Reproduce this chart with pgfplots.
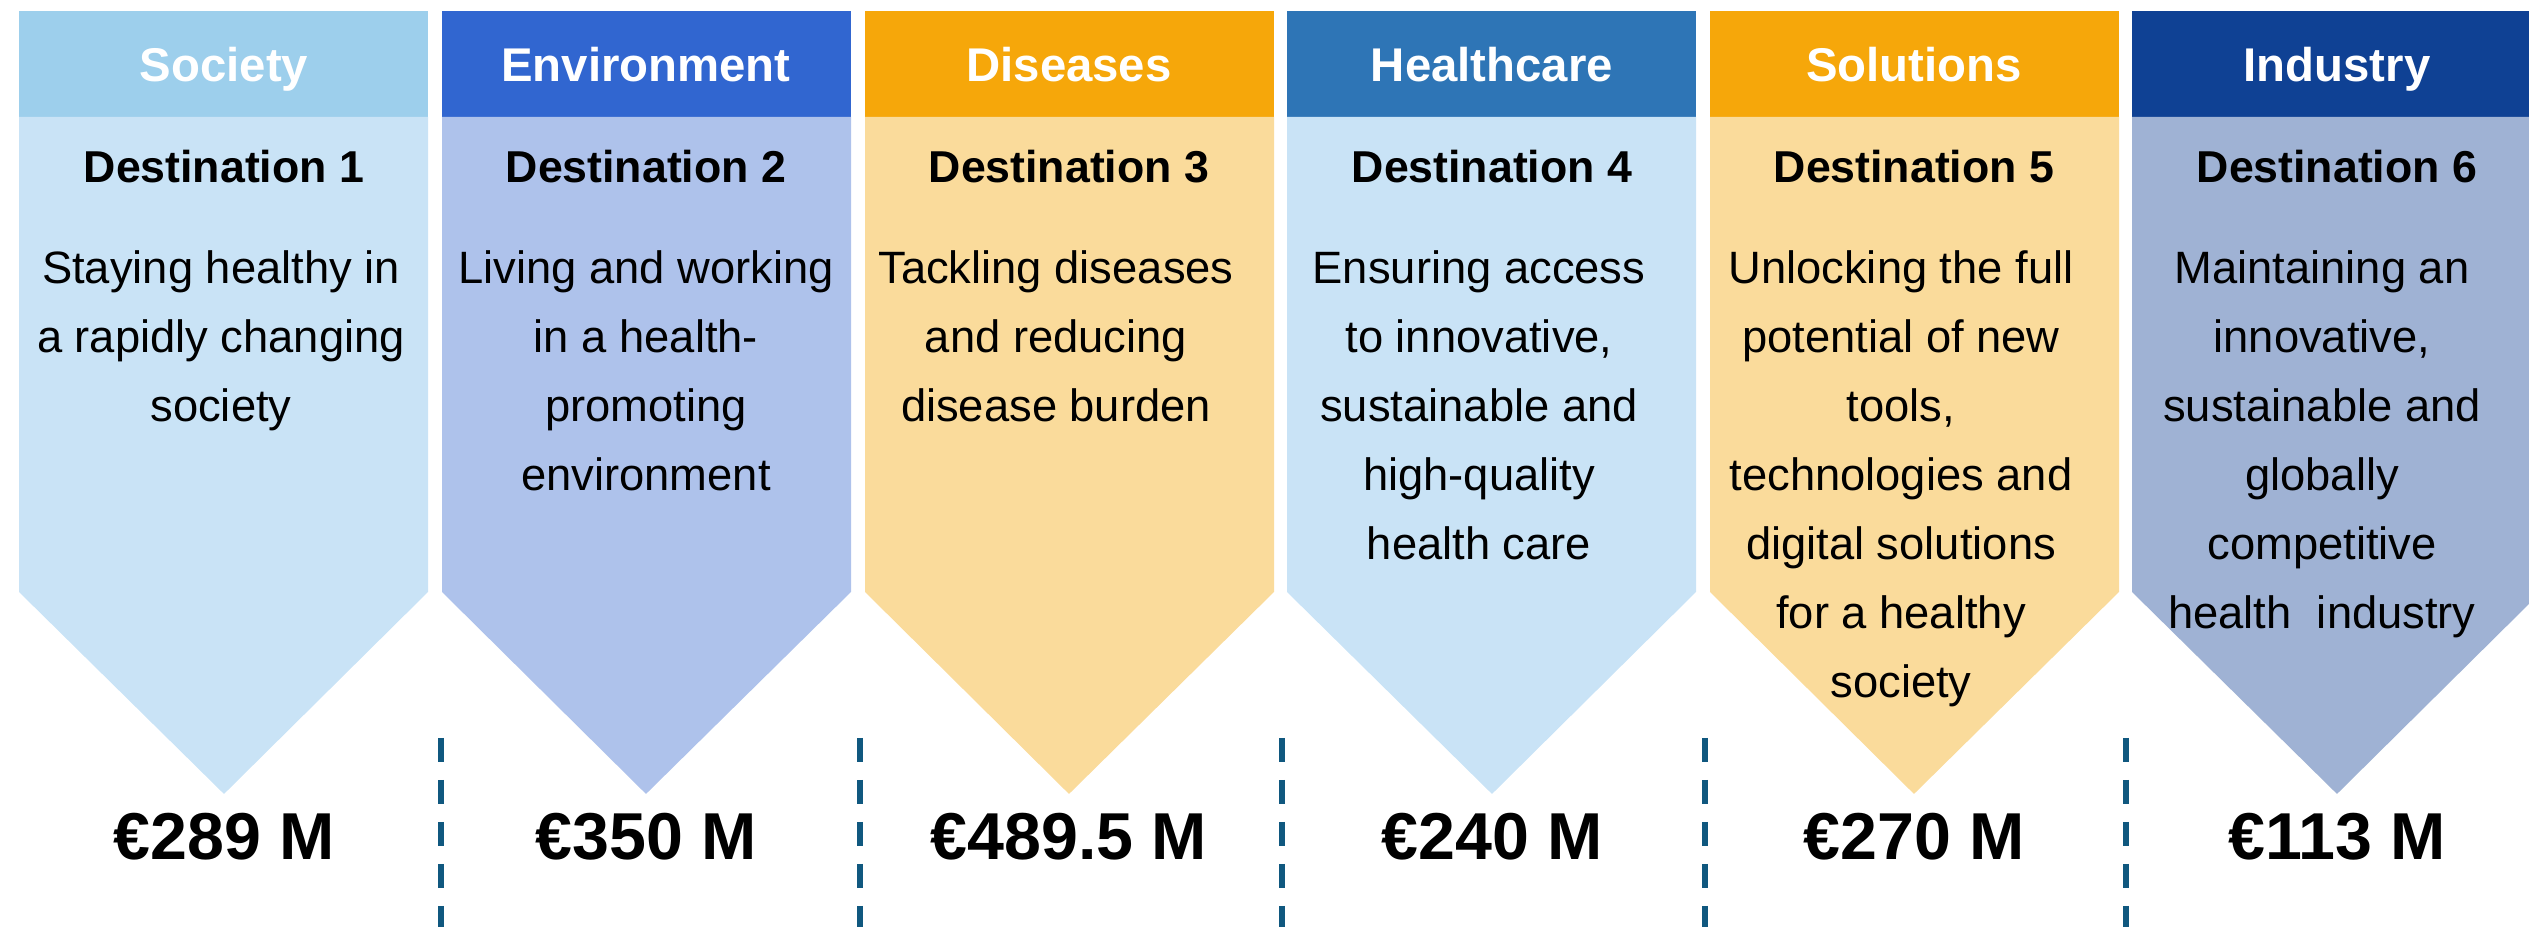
\documentclass[border=0pt]{standalone}
\usepackage{pgfplots}
\pgfplotsset{compat=1.18}
\usepackage{fontspec}
\setmainfont{Liberation Sans}

\definecolor{socH}{HTML}{9DCFEC}
\definecolor{socB}{HTML}{C9E3F6}
\definecolor{envH}{HTML}{3166D0}
\definecolor{envB}{HTML}{AEC2EB}
\definecolor{disH}{HTML}{F6A70A}
\definecolor{disB}{HTML}{FADB9B}
\definecolor{hcH}{HTML}{2E75B6}
\definecolor{indH}{HTML}{0F4194}
\definecolor{indB}{HTML}{9FB2D4}
\definecolor{sep}{HTML}{10587F}

\tikzset{
  hdr/.style={anchor=base, inner sep=0pt, text=white, font=\fontsize{14.2}{16}\selectfont\bfseries},
  dst/.style={anchor=base, inner sep=0pt, font=\fontsize{13.4}{15}\selectfont\bfseries},
  txt/.style={anchor=base, inner sep=0pt, font=\fontsize{13.6}{15}\selectfont},
  val/.style={anchor=base, inner sep=0pt, font=\fontsize{19.9}{22}\selectfont\bfseries},
}

\begin{document}
\begin{tikzpicture}
\begin{axis}[
    width=758.7pt, height=278.1pt,
    scale only axis,
    xmin=0, xmax=2529,
    ymin=0, ymax=927,
    hide axis,
]
% invisible frame so the page covers the whole canvas
\addplot[draw=none, forget plot] coordinates {(0,0) (2529,927)};
\path (rel axis cs:0,0) rectangle (rel axis cs:1,1);
% headers
\addplot[fill=socH, draw=none] coordinates {(19,916) (428,916) (428,810) (19,810)} --cycle;
\addplot[fill=envH, draw=none] coordinates {(442,916) (851,916) (851,810) (442,810)} --cycle;
\addplot[fill=disH, draw=none] coordinates {(865,916) (1274,916) (1274,810) (865,810)} --cycle;
\addplot[fill=hcH, draw=none] coordinates {(1287,916) (1696,916) (1696,810) (1287,810)} --cycle;
\addplot[fill=disH, draw=none] coordinates {(1710,916) (2119,916) (2119,810) (1710,810)} --cycle;
\addplot[fill=indH, draw=none] coordinates {(2132,916) (2529,916) (2529,810) (2132,810)} --cycle;
% arrow bodies
\addplot[fill=socB, draw=none] coordinates {(19,810) (428,810) (428,335) (224,133) (19,335)} --cycle;
\addplot[fill=envB, draw=none] coordinates {(442,810) (851,810) (851,335) (646,133) (442,335)} --cycle;
\addplot[fill=disB, draw=none] coordinates {(865,810) (1274,810) (1274,335) (1069,133) (865,335)} --cycle;
\addplot[fill=socB, draw=none] coordinates {(1287,810) (1696,810) (1696,335) (1492,133) (1287,335)} --cycle;
\addplot[fill=disB, draw=none] coordinates {(1710,810) (2119,810) (2119,335) (1914,133) (1710,335)} --cycle;
\addplot[fill=indB, draw=none] coordinates {(2132,810) (2529,810) (2529,323) (2337,133) (2132,335)} --cycle;
% dashed separators
\addplot[sep, line width=1.6pt, dash pattern=on 7.2pt off 5.4pt] coordinates {(441,189) (441,0)};
\addplot[sep, line width=1.6pt, dash pattern=on 7.2pt off 5.4pt] coordinates {(860,189) (860,0)};
\addplot[sep, line width=1.6pt, dash pattern=on 7.2pt off 5.4pt] coordinates {(1282,189) (1282,0)};
\addplot[sep, line width=1.6pt, dash pattern=on 7.2pt off 5.4pt] coordinates {(1705,189) (1705,0)};
\addplot[sep, line width=1.6pt, dash pattern=on 7.2pt off 5.4pt] coordinates {(2126,189) (2126,0)};

% header texts
\node[hdr] at (224,845) {Society};
\node[hdr] at (646,845) {Environment};
\node[hdr] at (1069,845) {Diseases};
\node[hdr] at (1492,845) {Healthcare};
\node[hdr] at (1914,845) {Solutions};
\node[hdr] at (2337,845) {Industry};

\node[dst] at (224,744) {Destination 1};
\node[dst] at (646,744) {Destination 2};
\node[dst] at (1069,744) {Destination 3};
\node[dst] at (1492,744) {Destination 4};
\node[dst] at (1914,744) {Destination 5};
\node[dst] at (2337,744) {Destination 6};

% descriptions
\node[txt] at (221,643) {Staying healthy in};
\node[txt] at (221,574) {a rapidly changing};
\node[txt] at (221,505) {society};

\node[txt] at (646,643) {Living and working};
\node[txt] at (646,574) {in a health-};
\node[txt] at (646,505) {promoting};
\node[txt] at (646,436) {environment};

\node[txt] at (1056,643) {Tackling diseases};
\node[txt] at (1056,574) {and reducing};
\node[txt] at (1056,505) {disease burden};

\node[txt] at (1479,643) {Ensuring access};
\node[txt] at (1479,574) {to innovative,};
\node[txt] at (1479,505) {sustainable and};
\node[txt] at (1479,436) {high-quality};
\node[txt] at (1479,367) {health care};

\node[txt] at (1901,643) {Unlocking the full};
\node[txt] at (1901,574) {potential of new};
\node[txt] at (1901,505) {tools,};
\node[txt] at (1901,436) {technologies and};
\node[txt] at (1901,367) {digital solutions};
\node[txt] at (1901,298) {for a healthy};
\node[txt] at (1901,229) {society};

\node[txt] at (2322,643) {Maintaining an};
\node[txt] at (2322,574) {innovative,};
\node[txt] at (2322,505) {sustainable and};
\node[txt] at (2322,436) {globally};
\node[txt] at (2322,367) {competitive};
\node[txt] at (2322,298) {health\ \ industry};

% amounts
\node[val] at (224,67) {€289 M};
\node[val] at (646,67) {€350 M};
\node[val] at (1069,67) {€489.5 M};
\node[val] at (1492,67) {€240 M};
\node[val] at (1914,67) {€270 M};
\node[val] at (2337,67) {€113 M};
\end{axis}
\end{tikzpicture}
\end{document}
